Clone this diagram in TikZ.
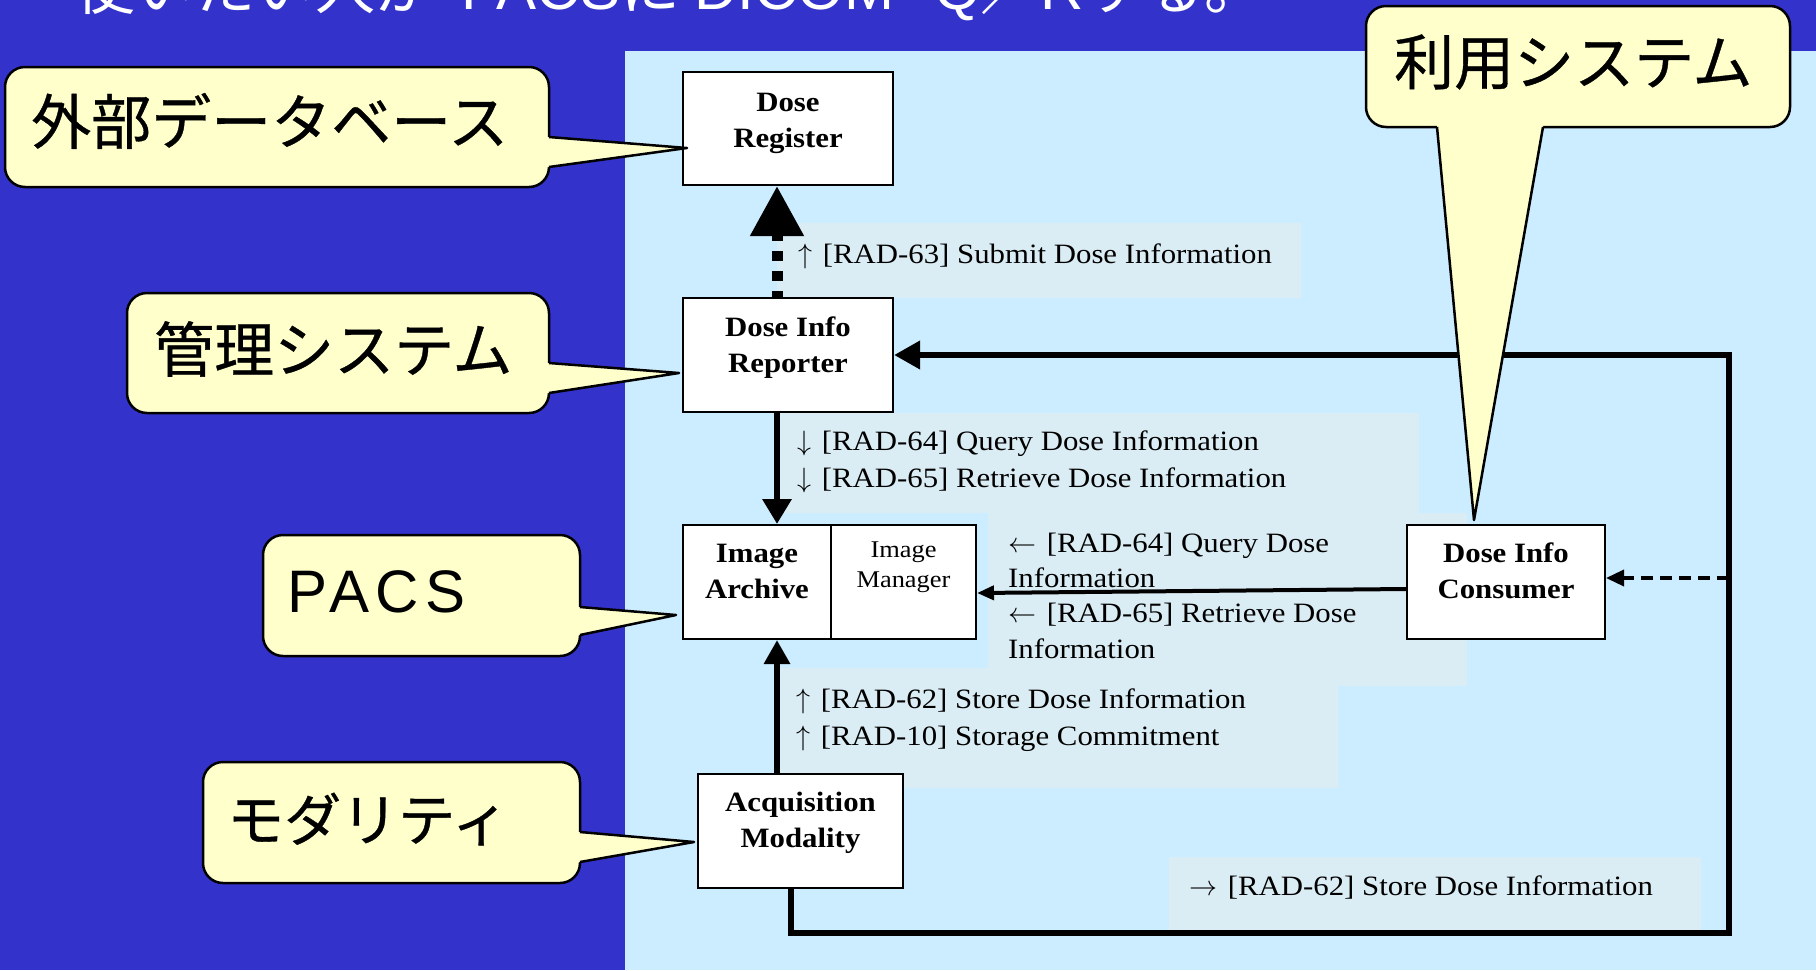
\RequirePackage{fix-cm}
\documentclass[tikz,border=0pt]{standalone}
\usepackage{fontspec}
\setmainfont{Liberation Serif}[FakeStretch=1.1]
\newfontfamily\jpfont{Noto Sans CJK JP}[FakeBold=0.6]
\newfontfamily\titlefont{Noto Sans CJK JP}
\newfontfamily\lsans{Liberation Sans}
\newfontfamily\pacsfont{Liberation Sans}[LetterSpace=11]
\usetikzlibrary{arrows.meta}
\definecolor{bgblue}{HTML}{3333CC}
\definecolor{panel}{HTML}{CCECFF}
\definecolor{lblbg}{HTML}{DBEDF4}
\definecolor{callfill}{HTML}{FFFFCC}
\newcommand\upar{$\uparrow$\hspace{3pt}}
\newcommand\dnar{$\downarrow$\hspace{3pt}}
\newcommand\lfar{$\leftarrow$\hspace{3pt}}
\newcommand\rtar{$\rightarrow$\hspace{3pt}}
\tikzset{
  box/.style={draw=black, line width=2pt, fill=white, inner sep=0pt},
  bt/.style={inner sep=0pt, align=center, anchor=base, font=\bfseries\fontsize{28}{36}\selectfont},
  lt/.style={inner sep=0pt, align=left, anchor=base west, font=\fontsize{28}{37}\selectfont},
  co/.style={fill=callfill, draw=black, line width=2.5pt, rounded corners=20pt},
  cofill/.style={fill=callfill},
  coedge/.style={draw=black, line width=2.5pt, line join=round},
  ctext/.style={inner sep=0pt, anchor=west, font=\jpfont\fontsize{60}{60}\selectfont},
  thickarr/.style={line width=6.5pt},
}
\begin{document}
\begin{tikzpicture}[x=1pt,y=-1pt]
\useasboundingbox (0,0) rectangle (1816,970);
\clip (0,0) rectangle (1816,970);
% backgrounds
\fill[bgblue] (0,0) rectangle (1816,970);
\fill[panel] (625,51) rectangle (1816,970);
% cut-off title (only its lower edge is visible, as in the reference)
\node[anchor=base west, inner sep=0pt, text=white, font=\titlefont\fontsize{60}{60}\selectfont] (title) at (75,9) {使いたい人が\hspace{26pt}{\lsans PACS}に\hspace{14pt}{\lsans DICOM}\hspace{40pt}{\lsans Q}／{\lsans R}する。};
% label backgrounds
\fill[lblbg] (777,223) rectangle (1301,298);
\fill[lblbg] (779,413) rectangle (1419,513);
\fill[lblbg] (988,513) rectangle (1467,686);
\fill[lblbg] (779,668) rectangle (1338,788);
\fill[lblbg] (1169,857) rectangle (1701,930);
% boxes
\node[box, minimum width=210pt, minimum height=113pt] (reg) at (788,128.5) {};
\node[box, minimum width=210pt, minimum height=114pt] (rep) at (788,355) {};
\node[box, minimum width=148pt, minimum height=114pt] (arch) at (757,582) {};
\node[box, minimum width=145pt, minimum height=114pt] (mgr) at (903.5,582) {};
\node[box, minimum width=198pt, minimum height=114pt] (cons) at (1506,582) {};
\node[box, minimum width=205pt, minimum height=114pt] (acq) at (800.5,831) {};
% coordinates
\coordinate (vx) at (777,0);
\coordinate (lb) at (791,933);
\coordinate (lbr) at (1729,933);
\coordinate (ltr) at (1729,355);
\coordinate (dc) at (1729,578);
% connectors
\draw[line width=11pt, dash pattern=on 10pt off 10pt, dash phase=4pt, -{Triangle[length=50pt,width=51pt]}] (rep.north -| vx) -- (reg.south -| vx);
\draw[thickarr, -{Triangle[length=25pt,width=28pt]}] (rep.south -| vx) -- (arch.north -| vx);
\draw[thickarr, -{Triangle[length=24pt,width=25pt]}] (acq.north -| vx) -- (arch.south -| vx);
\draw[thickarr, line join=miter, -{Triangle[length=26pt,width=27pt]}] (acq.south -| lb) -- (lb) -- (lbr) -- (ltr) -- (rep.east);
\draw[line width=3.5pt, dash pattern=on 12pt off 7pt, -{Triangle[length=18pt,width=16pt]}] (dc) -- (cons.east |- dc);
\draw[line width=4pt, -{Triangle[length=17pt,width=14pt]}] ([yshift=-7pt]cons.west) -- ([yshift=-11pt]mgr.east);
% box texts (anchor = baseline of the last line)
\node[bt] (treg) at (788,147) {Dose\\Register};
\node[bt] (trep) at (788,372) {Dose Info\\Reporter};
\node[bt] (tarch) at (757,598) {Image\\Archive};
\node[bt, font=\fontsize{24}{30}\selectfont] (tmgr) at (903.5,587) {Image\\Manager};
\node[bt] (tcons) at (1506,598) {Dose Info\\Consumer};
\node[bt] (tacq) at (800.5,847) {Acquisition\\Modality};
% transaction labels
\node[lt] (l63) at (798,263) {\upar{} [RAD-63] Submit Dose Information};
\node[lt] (l6465) at (797,487) {\dnar{} [RAD-64] Query Dose Information\\\dnar{} [RAD-65] Retrieve Dose Information};
\node[lt, font=\fontsize{28}{35.3}\selectfont] (lcons) at (1008,658) {\lfar{} [RAD-64] Query Dose\\Information\\\lfar{} [RAD-65] Retrieve Dose\\Information};
\node[lt] (l6210) at (796,745) {\upar{} [RAD-62] Store Dose Information\\\upar{} [RAD-10] Storage Commitment};
\node[lt] (lloop) at (1189,895) {\rtar{} [RAD-62] Store Dose Information};
% callouts
\filldraw[co] (5,67) rectangle (549,187);
\fill[cofill] (545,137) -- (549,137) -- (687,148) -- (549,167) -- (545,167) -- cycle;
\draw[coedge] (549,137) -- (687,148) -- (549,167);
\node[ctext] (c1) at (31,121) {外部データベース};

\filldraw[co] (127,293) rectangle (549,413);
\fill[cofill] (545,363) -- (549,363) -- (679,373) -- (549,393) -- (545,393) -- cycle;
\draw[coedge] (549,363) -- (679,373) -- (549,393);
\node[ctext] (c2) at (154,349) {管理システム};

\filldraw[co] (263,535) rectangle (580,656);
\fill[cofill] (576,607) -- (580,607) -- (676,615) -- (580,635) -- (576,635) -- cycle;
\draw[coedge] (580,607) -- (676,615) -- (580,635);
\node[inner sep=0pt, anchor=west, font=\pacsfont\fontsize{60}{60}\selectfont] (c3) at (287,592) {PACS};

\filldraw[co] (203,762) rectangle (580,883);
\fill[cofill] (576,832) -- (580,832) -- (694,842) -- (580,862) -- (576,862) -- cycle;
\draw[coedge] (580,832) -- (694,842) -- (580,862);
\node[ctext, font=\jpfont\fontsize{57}{57}\selectfont] (c4) at (227,819) {モダリティ};

\filldraw[co] (1366,6) rectangle (1790,127);
\fill[cofill] (1437,123) -- (1437,127) -- (1474,520) -- (1543,127) -- (1543,123) -- cycle;
\draw[coedge] (1437,127) -- (1474,520) -- (1543,127);
\node[ctext] (c5) at (1394,62) {利用システム};
\end{tikzpicture}
\end{document}
